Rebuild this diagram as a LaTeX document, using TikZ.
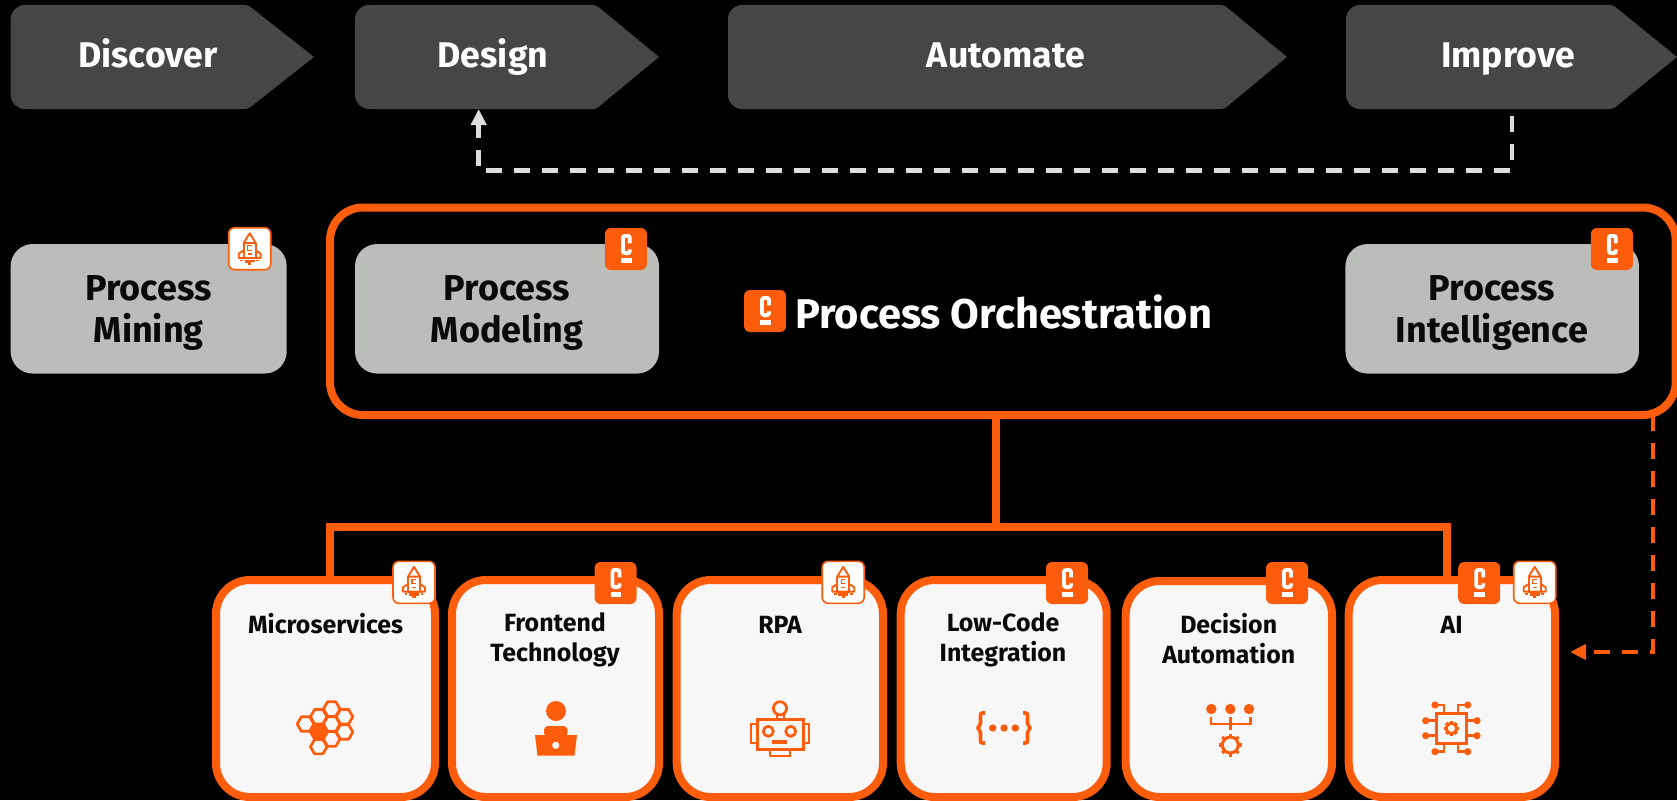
\documentclass[tikz,border=0pt]{standalone}
\usepackage{fontspec}
\setmainfont{Fira Sans}
\usetikzlibrary{arrows.meta,calc}
\definecolor{cam}{HTML}{FC5D0D}
\definecolor{chev}{HTML}{464646}
\definecolor{greybox}{HTML}{BBBDBB}
\definecolor{cardbg}{HTML}{F7F7F7}
\definecolor{dashgrey}{HTML}{DDDDDD}
\definecolor{ink}{HTML}{0A0A0A}
\tikzset{
  chevlabel/.style={inner sep=0pt,outer sep=0pt,text=white,font=\fontsize{35.7}{40}\selectfont\bfseries,minimum height=104pt,text height=24pt,text depth=3.2pt},
  greynode/.style={fill=greybox,rounded corners=22pt,inner sep=0pt,outer sep=0pt,minimum height=129.5pt},
  greylabel/.style={inner sep=0pt,text=ink,align=center,font=\fontsize{36}{41.8}\selectfont\bfseries},
  cardnode/.style={draw=cam,fill=cardbg,line width=8pt,rounded corners=34pt,inner sep=0pt,outer sep=0pt},
  cardlabel/.style={inner sep=0pt,text=ink,align=center,font=\fontsize{24.9}{29.5}\selectfont\bfseries},
  conn/.style={draw=cam,line width=8pt},
  greydash/.style={draw=dashgrey,line width=4.5pt,dash pattern=on 16pt off 12pt,-{Triangle[width=15pt,length=16pt]}},
  camdash/.style={draw=cam,line width=4pt,dash pattern=on 16pt off 12pt,-{Triangle[width=15pt,length=16pt]}},
  cbox/.style={fill=cam,rounded corners=6pt,minimum width=42pt,minimum height=42pt,inner sep=0pt},
  rbox/.style={draw=cam,fill=white,line width=1.6pt,rounded corners=6pt,minimum width=42pt,minimum height=42pt,inner sep=0pt},
  ico/.style={draw=cam,line width=2.7pt},
}
\newcommand{\chevshape}[3]{% x0, body, tip
  \fill[chev] (#3,57) [rounded corners=3pt] -- (#2,5) [rounded corners=14pt] -- (#1,5) -- (#1,109) [rounded corners=3pt] -- (#2,109) [sharp corners] -- cycle;}
\newcommand{\cbadgeat}[3]{%
  \node[cbox] (#1) at (#2,#3) {};
  \begin{scope}[shift={(#1.center)}]
    \draw[white,line width=3.8pt,rounded corners=2pt] (3.95,-5.7) -- (3.95,-13.1) -- (-2.95,-13.1) -- (-2.95,4.1) -- (3.95,4.1) -- (3.95,0.3);
    \fill[white] (-4.85,9.3) rectangle (5.85,14.3);
  \end{scope}}
\newcommand{\rbadgeat}[3]{%
  \node[rbox] (#1) at (#2,#3) {};
  \begin{scope}[shift={(#1.center)}]
    \draw[cam,line width=1.9pt,line join=round] (0,-15.5) -- (-6,-5.7) -- (6,-5.7) -- cycle;
    \draw[cam,line width=1.9pt,line join=round] (-6,-5.7) -- (-6,9.3) -- (6,9.3) -- (6,-5.7);
    \draw[cam,line width=1.9pt,line join=round] (-6,1.7) -- (-11,5) -- (-11,9.3) -- (11,9.3) -- (11,5) -- (6,1.7);
    \draw[cam,line width=1.2pt] (2,-3) -- (-2,-3) -- (-2,1.5) -- (2,1.5);
    \fill[cam] (-2.2,4.2) rectangle (2.2,5.8);
    \fill[cam] (-9.3,11) rectangle (-6.7,12.7);
    \fill[cam] (-4.8,11) rectangle (-1.6,14);
    \fill[cam] (-1.6,11) rectangle (1.6,16);
    \fill[cam] (1.6,11) rectangle (4.8,13.2);
    \fill[cam] (6.7,11) rectangle (9.3,12.7);
  \end{scope}}
\newcommand{\hexat}[3][]{\draw[ico,line join=round,#1,shift={(#2,#3)}] (0:8.3) -- (60:8.3) -- (120:8.3) -- (180:8.3) -- (240:8.3) -- (300:8.3) -- cycle;}
\newcommand{\gearat}[4]{% x,y,radius,tooth len
  \begin{scope}[shift={(#1,#2)}]
    \draw[cam,line width=3pt] (0,0) circle (#3);
    \foreach \a in {0,45,...,315} \draw[cam,line width=3.2pt] (\a:#3) -- (\a:#3+#4);
  \end{scope}}
\begin{document}
\begin{tikzpicture}[x=1pt,y=-1pt]
\useasboundingbox (0,0) rectangle (1677,800);
\fill[black] (0,0) rectangle (1677,800);

% chevrons
\chevshape{10.7}{248}{314}
\chevshape{355}{596}{659}
\chevshape{728}{1224}{1287}
\chevshape{1346}{1613}{1677}
\node[chevlabel] (discover) at (148,57) {Discover};
\node[chevlabel] (design) at (493,57) {Design};
\node[chevlabel] (automate) at (1006,57) {Automate};
\node[chevlabel] (improve) at (1508,57) {Improve};

% coordinates of connector bends
\coordinate (dashR) at (1512,170.3);
\coordinate (dashL) at (478.7,170.3);
\coordinate (trunk) at (996,526.7);
\coordinate (barL) at (329.7,526.7);
\coordinate (barR) at (1446.7,526.7);
\coordinate (camC) at (1653,652);

% outer orchestration frame
\node[draw=cam,line width=8pt,rounded corners=33pt,inner sep=0pt,outer sep=0pt,minimum width=1345.7pt,minimum height=207.5pt] (orch) at (1002.85,311.25) {};

% cards
\node[cardnode,minimum width=219pt,minimum height=217pt] (micro) at (325.5,688.5) {};
\node[cardnode,minimum width=207pt,minimum height=217pt] (front) at (555.5,688.5) {};
\node[cardnode,minimum width=206.3pt,minimum height=217pt] (rpa) at (779.85,688.5) {};
\node[cardnode,minimum width=206pt,minimum height=217pt] (lowcode) at (1003.7,688.5) {};
\node[cardnode,minimum width=206.3pt,minimum height=216pt] (decision) at (1228.85,689) {};
\node[cardnode,minimum width=206.3pt,minimum height=217pt] (ai) at (1451.85,688.5) {};

% connectors
\draw[conn] (trunk) -- (orch.south -| trunk);
\draw[conn] (micro.north -| barL) -- (barL) -- (barR) -- (ai.north -| barR);
\draw[greydash] ($(improve.south -| dashR)+(0,7)$) -- (dashR) -- (dashL) -- (design.south -| dashL);
\draw[camdash] (orch.south -| camC) -- (camC) -- ($(ai.east |- camC)+(15,0)$);

% grey boxes
\node[greynode,minimum width=276pt] (mining) at (148.7,308.8) {};
\node[greynode,minimum width=304pt] (modeling) at (507,308.8) {};
\node[greynode,minimum width=293.5pt] (intel) at (1492.2,308.8) {};
\node[greylabel] (tMining) at (148.7,313) {Process\\Mining};
\node[greylabel] (tModeling) at (507,313) {Process\\Modeling};
\node[greylabel] (tIntel) at (1492,313) {Process\\Intelligence};

% badges
\rbadgeat{rMining}{249.7}{248.7}
\cbadgeat{cModel}{625.85}{249}
\cbadgeat{cIntel}{1611.85}{249}
\cbadgeat{cOrch}{765}{311}
\node[inner sep=0pt,text=white,font=\fontsize{41.6}{46}\selectfont\bfseries,anchor=west] (orchT) at (795,312) {Process Orchestration};

\rbadgeat{rMicro}{414}{582.3}
\cbadgeat{cFront}{615.5}{583}
\rbadgeat{rRpa}{843.2}{582.3}
\cbadgeat{cLow}{1067}{583}
\cbadgeat{cDec}{1287}{583}
\cbadgeat{cAi}{1479.2}{583}
\rbadgeat{rAi}{1534.7}{582.3}

% card labels
\node[cardlabel] (tMicro) at (325.7,624) {Microservices};
\node[cardlabel] (tFront) at (555,640) {Frontend\\Technology};
\node[cardlabel] (tRpa) at (780,625) {RPA};
\node[cardlabel] (tLow) at (1003,640) {Low-Code\\Integration};
\node[cardlabel] (tDec) at (1228.7,638.5) {Decision\\Automation};
\node[cardlabel] (tAi) at (1451.7,625) {AI};

% honeycomb icon
\foreach \p/\q in {331.7/709,331.7/724,331.7/739,318.7/716.7,318.7/746.7,344.5/716.7,344.5/732,305.5/724}{\hexat{\p}{\q}}
\hexat[fill=cam]{318.7}{731.7}

% person icon
\fill[cam] (556,711) circle (10);
\fill[cam,rounded corners=4pt] (544,737) -- (544,726) -- (567.5,726) -- (567.5,737) -- cycle;
\fill[cam] (535,735) -- (577,735) -- (574.5,755.5) -- (537.5,755.5) -- cycle;
\fill[cardbg] (555.7,745.3) circle (3.6);

% robot icon
\draw[ico] (780,708.3) circle (6.6);
\draw[cam,line width=2pt] (776.5,714) -- (776.5,719) (783.5,714) -- (783.5,719);
\draw[ico,line width=3pt] (757,719.5) rectangle (803,749.5);
\draw[cam,line width=2.4pt] (756,724) -- (751,724) -- (751,743) -- (756,743);
\draw[cam,line width=2.4pt] (804,724) -- (809,724) -- (809,743) -- (804,743);
\draw[ico] (768.3,731.3) circle (5);
\draw[ico] (790.7,731.3) circle (5);
\fill[cam] (772,740) rectangle (787.3,744);
\draw[cam,line width=2.6pt] (770,750) -- (770,756) -- (790,756) -- (790,750);

% brace icon
\draw[cam,line width=3.6pt,rounded corners=2pt] (985,713) -- (980.5,713) -- (980.5,725.5) -- (977,728) -- (980.5,730.5) -- (980.5,743) -- (985,743);
\draw[cam,line width=3.6pt,rounded corners=2pt] (1023,713) -- (1027.5,713) -- (1027.5,725.5) -- (1031,728) -- (1027.5,730.5) -- (1027.5,743) -- (1023,743);
\foreach \q in {992.7,1004,1015.3}{\fill[cam] (\q,728) circle (3.7);}

% decision icon
\foreach \q in {1211.3,1230.3,1249}{\fill[cam] (\q,709) circle (5.2);}
\draw[cam,line width=2.8pt] (1211,717.3) -- (1211,724) -- (1250.3,724) -- (1250.3,717.3) (1230.3,717.3) -- (1230.3,730);
\gearat{1230.3}{745}{8}{3.5}

% chip icon
\draw[cam,line width=3.3pt] (1436.5,713.5) rectangle (1466.5,743.5);
\gearat{1451.4}{728.4}{5.3}{2.2}
\draw[cam,line width=2.6pt] (1435,705) -- (1444,705) -- (1444,713) (1467.7,705) -- (1458,705) -- (1458,713);
\draw[cam,line width=2.6pt] (1435,751.7) -- (1444,751.7) -- (1444,744) (1467.7,751.7) -- (1458,751.7) -- (1458,744);
\draw[cam,line width=2.6pt] (1425.7,720.7) -- (1436,720.7) (1425.7,735.7) -- (1436,735.7) (1477,720.7) -- (1467,720.7) (1477,735.7) -- (1467,735.7);
\foreach \p/\q in {1435/705,1467.7/705,1435/751.7,1467.7/751.7,1425.7/720.7,1425.7/735.7,1477/720.7,1477/735.7}{\fill[cam] (\p,\q) circle (3.6);}
\end{tikzpicture}
\end{document}
